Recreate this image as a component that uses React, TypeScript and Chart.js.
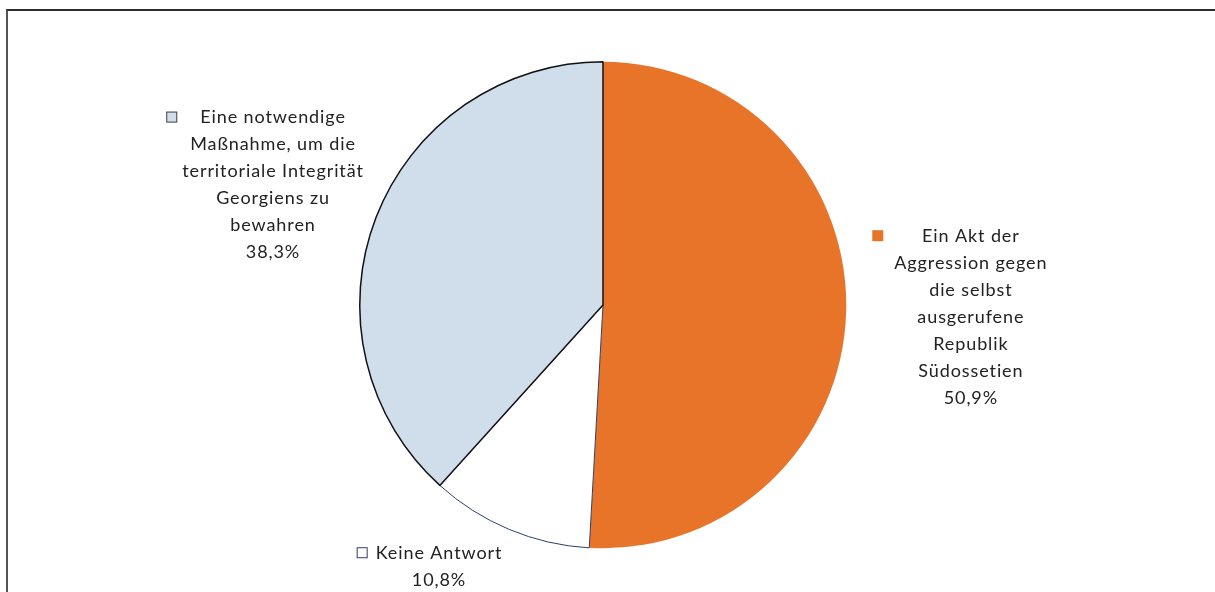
import React, { useEffect, useRef } from "react";
import { Chart, registerables } from "chart.js";

Chart.register(...registerables);

const categories = [
  "Ein Akt der Aggression gegen die selbst ausgerufene Republik Südossetien",
  "Keine Antwort",
  "Eine notwendige Maßnahme, um die territoriale Integrität Georgiens zu bewahren",
];
const values = [50.9, 10.8, 38.3];
const valueLabels = ["50,9%", "10,8%", "38,3%"];
const labelLines = [
  ["Ein Akt der", "Aggression gegen", "die selbst", "ausgerufene", "Republik", "Südossetien"],
  ["Keine Antwort"],
  ["Eine notwendige", "Maßnahme, um die", "territoriale Integrität", "Georgiens zu", "bewahren"],
];
const fillColors = ["#E8742A", "#FFFFFF", "#D0DEEC"];
const borderColors = ["#E8742A", "#2B3F6E", "#111111"];
const borderWidths = [0, 1, 1.5];
const keyBorders = ["#E8742A", "#2B3F6E", "#444444"];
// label layout offsets relative to pie center (px at radius 244)
const labelDx = [369, -164.5, -331];
const labelDy = [-69, 249, -188];
const keyGap = [11, 8, 5];

const FONT = "18px Lato, 'Open Sans', sans-serif";
const LINE_H = 27;

const labelPlugin = {
  id: "sliceLabels",
  afterDatasetsDraw(chart: any) {
    const ctx = chart.ctx;
    const meta = chart.getDatasetMeta(0);
    const arc0 = meta.data[0];
    const cx = arc0.x;
    const cy = arc0.y;
    const s = arc0.outerRadius / 244;
    ctx.save();
    ctx.font = FONT;
    try {
      (ctx as any).letterSpacing = "0.9px";
    } catch (e) {}
    ctx.fillStyle = "#222222";
    ctx.textAlign = "center";
    ctx.textBaseline = "middle";
    categories.forEach((_, i) => {
      const lines = [...labelLines[i], valueLabels[i]];
      const x = cx + labelDx[i] * s;
      const y0 = cy + labelDy[i] * s;
      let maxW = 0;
      lines.forEach((l) => {
        maxW = Math.max(maxW, ctx.measureText(l).width);
      });
      const boxLeft = x - maxW / 2;
      lines.forEach((l, j) => {
        ctx.fillStyle = "#222222";
        ctx.fillText(l, x, y0 + j * LINE_H);
      });
      const kx = boxLeft - keyGap[i] - 11;
      const ky = y0 - 6;
      ctx.fillStyle = fillColors[i];
      ctx.fillRect(kx, ky, 11, 11);
      if (i !== 0) {
        ctx.strokeStyle = keyBorders[i];
        ctx.lineWidth = 1;
        ctx.strokeRect(kx + 0.5, ky + 0.5, 10, 10);
      }
    });
    ctx.restore();
  },
};

export default function App() {
  const ref = useRef<HTMLCanvasElement | null>(null);
  useEffect(() => {
    document.body.style.margin = "0";
    const chart = new Chart(ref.current!, {
      type: "pie",
      data: {
        labels: categories,
        datasets: [
          {
            data: values,
            backgroundColor: fillColors,
            borderColor: borderColors,
            borderWidth: borderWidths,
          },
        ],
      },
      options: {
        animation: false,
        responsive: false,
        maintainAspectRatio: false,
        layout: { padding: { left: 359, right: 368, top: 61, bottom: 43 } },
        plugins: {
          legend: { display: false },
          tooltip: { enabled: false },
        },
      },
      plugins: [labelPlugin],
    });
    return () => chart.destroy();
  }, []);
  return (
    <div style={{ position: "relative", width: 1215, height: 592, background: "#fff", overflow: "hidden" }}>
      <div
        style={{
          position: "absolute",
          left: 6,
          top: 9,
          width: 1215,
          height: 600,
          borderTop: "2px solid #2e2e2e",
          borderLeft: "2px solid #555",
        }}
      />
      <canvas ref={ref} width={1215} height={592} style={{ position: "absolute", left: 0, top: 0 }} />
    </div>
  );
}
